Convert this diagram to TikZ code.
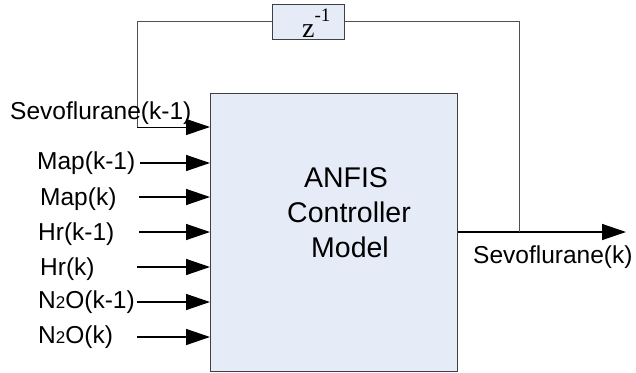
\documentclass[tikz,border=0pt]{standalone}
\usepackage{fontspec}
\setmainfont{Liberation Sans}
\newfontfamily\serifz{Liberation Serif}
\usetikzlibrary{arrows.meta}
\definecolor{boxfill}{HTML}{E6ECF7}
\definecolor{fbgray}{HTML}{505050}
\tikzset{
  lbl/.style={inner sep=0pt, anchor=base west, font=\fontsize{24.5}{26}\selectfont},
  ctext/.style={inner sep=0pt, anchor=base, font=\fontsize{28.5}{32}\selectfont},
  inarrow/.style={black, line width=1.4pt, -{Triangle[length=24pt,width=16pt]}},
  fbline/.style={fbgray, line width=1pt},
  blk/.style={draw=black!75, line width=0.9pt, fill=boxfill, inner sep=0pt}
}
\newcommand{\ntwo}{N{\fontsize{17}{17}\selectfont 2}O}
\begin{document}
\begin{tikzpicture}[x=1pt,y=-1pt]
\useasboundingbox (0,0) rectangle (636,372);
% main block
\node[blk, anchor=north west, minimum width=247pt, minimum height=278pt] (ctrl) at (210,93) {};
\node[ctext] (t1) at (346,187) {ANFIS};
\node[ctext] (t2) at (349,222) {Controller};
\node[ctext] (t3) at (350,257) {Model};
% delay block
\node[blk, anchor=north west, minimum width=72pt, minimum height=35pt] (z) at (272,4) {};
\node[inner sep=0pt, anchor=base west, font=\serifz\fontsize{28}{28}\selectfont] (zt) at (302,37) {z\raisebox{16pt}{\fontsize{19}{19}\selectfont -1}};
% feedback
\coordinate (tap) at (519,232);
\coordinate (outend) at (626,232);
\coordinate (fbA) at (137,23);
\coordinate (fbB) at (137,127);
\coordinate (fbIn) at (210,127);
\draw[inarrow] (ctrl.east |- tap) -- (outend);
\draw[fbline] (tap) |- (z.east);
\draw[fbline] (z.west) -| (fbB);
\draw[inarrow, line width=1pt] (fbB) -- (fbIn);
% labels
\node[lbl] (sk1) at (10,119) {Sevoflurane(k-1)};
\node[lbl] (mk1) at (37,169) {Map(k-1)};
\node[lbl] (mk) at (40,205) {Map(k)};
\node[lbl] (hk1) at (38,240) {Hr(k-1)};
\node[lbl] (hk) at (40,275) {Hr(k)};
\node[lbl] (nk1) at (38,308) {\ntwo(k-1)};
\node[lbl] (nk) at (38,343) {\ntwo(k)};
\node[lbl] (sk) at (473,263) {Sevoflurane(k)};
% input arrows
\coordinate (a1) at (140,163);
\coordinate (a2) at (139,197);
\coordinate (a3) at (139,232);
\coordinate (a4) at (137,267);
\coordinate (a5) at (137,302);
\coordinate (a6) at (137,337);
\foreach \c in {a1,a2,a3,a4,a5,a6}{
  \draw[inarrow] (\c) -- (ctrl.west |- \c);
}
\end{tikzpicture}
\end{document}
